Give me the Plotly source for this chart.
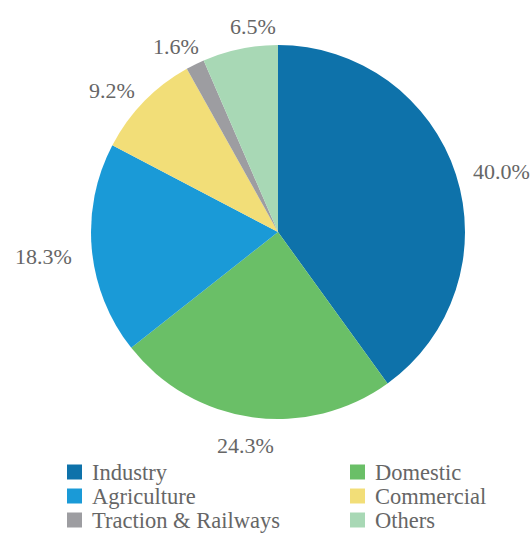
import numpy as np
import plotly.graph_objects as go

# Electricity consumption share by sector (%)
sectors = ["Industry", "Domestic", "Agriculture", "Commercial", "Traction & Railways", "Others"]
shares = [40.0, 24.3, 18.3, 9.2, 1.6, 6.5]
colors = ["#0E72AA", "#6ABF67", "#1A9AD7", "#F2DE78", "#9D9DA1", "#A8D8B5"]

W, H = 531, 533
cx, cy, r = 278, 232, 187      # pie centre and radius, px
label_r = 207                  # radius of the label anchor ring, px
MIN_GAP = 20.0                 # minimum angular spacing between labels, degrees
LABEL_SIZE = 22
LEGEND_SIZE = 22.5
FONT = "Times New Roman, Liberation Serif, serif"
TEXT_GREY = "#666666"

# approximate Times glyph advances (em) for sizing the percentage labels
GLYPH_EM = {".": 0.25, "%": 0.833}


def text_width(s, size):
    return sum(GLYPH_EM.get(ch, 0.5) for ch in s) * size


def px_to_paper(x, y):
    return x / W, (H - y) / H


fig = go.Figure(
    go.Pie(
        labels=sectors,
        values=shares,
        sort=False,
        direction="clockwise",
        rotation=0,
        marker=dict(colors=colors, line=dict(width=0)),
        textinfo="none",
        hovertemplate="%{label}: %{value:.1f}%<extra></extra>",
        showlegend=False,
        domain=dict(
            x=[(cx - r) / W, (cx + r) / W],
            y=[(H - cy - r) / H, (H - cy + r) / H],
        ),
    )
)

annotations, shapes = [], []

# label angles start on each slice bisector (degrees clockwise from 12 o'clock)
vals = np.array(shares, dtype=float)
cum = np.cumsum(vals)
ang = (cum - vals / 2) / vals.sum() * 360.0

# labels that crowd a neighbour are moved away; the larger slice's label gives way
n = len(ang)
for _ in range(10):
    for i in range(n):
        j = (i + 1) % n
        gap = (ang[j] - ang[i]) % 360.0
        if gap < MIN_GAP:
            shift = MIN_GAP - gap
            if vals[i] >= vals[j]:
                ang[i] -= shift
            else:
                ang[j] += shift

for v, a in zip(vals, np.radians(ang)):
    txt = f"{v:.1f}%"
    sx, su = np.sin(a), np.cos(a)                  # x right, y up
    w, h = text_width(txt, LABEL_SIZE), 9
    px = cx + label_r * sx + sx * w / 2
    py = cy - label_r * su - su * h / 2 + 4.5
    xp, yp = px_to_paper(px, py)
    annotations.append(
        dict(
            text=txt, xref="paper", yref="paper", x=xp, y=yp,
            xanchor="center", yanchor="middle", showarrow=False,
            font=dict(family=FONT, size=LABEL_SIZE, color=TEXT_GREY),
        )
    )

# legend key: two columns, three rows
col_x = [67, 350]
row_y = [472, 496, 520]
box = 15
for i, (name, col) in enumerate(zip(sectors, colors)):
    x0 = col_x[i % 2]
    yc = row_y[i // 2]
    shapes.append(
        dict(
            type="rect", xref="paper", yref="paper",
            x0=x0 / W, x1=(x0 + box) / W,
            y0=(H - yc - box / 2) / H, y1=(H - yc + box / 2) / H,
            fillcolor=col, line=dict(width=0),
        )
    )
    xp, yp = px_to_paper(x0 + 22.5, yc)
    annotations.append(
        dict(
            text=name, xref="paper", yref="paper", x=xp, y=yp,
            xanchor="left", yanchor="middle", showarrow=False,
            font=dict(family=FONT, size=LEGEND_SIZE, color=TEXT_GREY),
        )
    )

fig.update_layout(
    width=W,
    height=H,
    margin=dict(l=0, r=0, t=0, b=0, autoexpand=False),
    paper_bgcolor="white",
    plot_bgcolor="white",
    showlegend=False,
    shapes=shapes,
    annotations=annotations,
)

fig.write_html("out.html")
